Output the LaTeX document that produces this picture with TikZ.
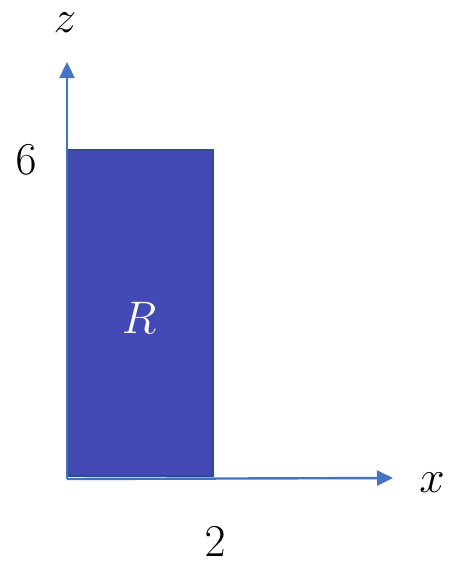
\documentclass[tikz,border=0pt]{standalone}
\usepackage{tikz}
\usetikzlibrary{positioning,arrows.meta}
\definecolor{AxisBlue}{HTML}{4472C4}
\definecolor{RegionFill}{HTML}{4349B5}
\definecolor{RegionEdge}{HTML}{2F4C8F}

\begin{document}
\begin{tikzpicture}[x=1pt,y=-1pt,
    axis/.style={AxisBlue,line width=2.4pt,-{Triangle[length=16pt,width=15pt]}},
    lbl/.style={font=\huge,scale=2.2,inner sep=0pt}]
        \useasboundingbox (0,0) rectangle (452,562);
        \coordinate (O) at (67,479);
        \coordinate (zend) at (67,62);
        \coordinate (xend) at (393,478);
        \fill[RegionFill,draw=RegionEdge,line width=1.5pt] (68,150) rectangle (213,476);
        \draw[axis] (O)--(zend);
        \draw[axis] (O)--(xend);
        \node[lbl] (zlab) at (65,23) {$z$};
        \node[lbl] (xlab) at (432,483) {$x$};
        \node[lbl] (six) at (26,160) {$6$};
        \node[lbl] (two) at (215,542) {$2$};
        \node[lbl,text=white] (rlab) at (139,318) {$R$};
      \end{tikzpicture}
\end{document}
